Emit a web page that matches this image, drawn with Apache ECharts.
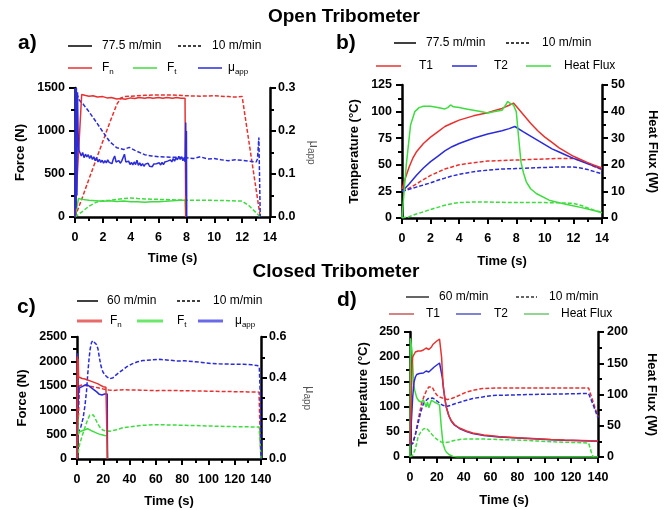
<!DOCTYPE html>
<html><head><meta charset="utf-8">
<script src="https://cdn.jsdelivr.net/npm/echarts@6/dist/echarts.min.js"></script>
<style>html,body{margin:0;padding:0;background:#fff}#c{width:668px;height:510px}</style>
</head><body><div id="c"></div>
<script>
// ---------- tick labels ----------
const aTimeTicks = [0,2,4,6,8,10,12,14];
const aForceTicks = [0,500,1000,1500];
const aMuTicks = [0,0.1,0.2,0.3];
const bTempTicks = [0,25,50,75,100,125];
const bHFTicks = [0,10,20,30,40,50];
const cTimeTicks = [0,20,40,60,80,100,120,140];
const cForceTicks = [0,500,1000,1500,2000,2500];
const cMuTicks = [0,0.2,0.4,0.6];
const dTempTicks = [0,50,100,150,200,250];
const dHFTicks = [0,50,100,150,200];

// ---------- panel a: Open tribometer forces (77.5 m/min solid, 10 m/min dashed) ----------
const aFnFast = [[0,0],[0.12,0],[0.48,1425],[0.7,1415],[1,1405],[1.3,1410],[1.6,1395],[2,1400],[2.3,1385],[2.6,1390],[3,1372],[3.3,1378],[3.6,1370],[4,1385],[4.3,1378],[4.6,1390],[5,1380],[5.3,1390],[5.6,1380],[6,1390],[6.3,1380],[6.6,1390],[7,1380],[7.3,1390],[7.6,1380],[7.9,1382],[7.95,0]];
const aFtFast = [[0,0],[0.12,0],[0.25,215],[0.5,205],[1,195],[1.5,190],[2,183],[2.5,188],[3,180],[3.5,186],[4,178],[4.5,176],[5,172],[5.5,176],[6,178],[6.5,182],[7,188],[7.5,195],[7.9,196],[7.95,0]];
const aMuFast = [[0,0],[0.03,0.3],[0.07,0.02],[0.1,0.3],[0.14,0.05],[0.18,0.29],[0.22,0.2],[0.28,0.155],[0.35,0.15],[0.45,0.142],[0.55,0.15],[0.65,0.138],[0.75,0.146],[0.85,0.14],[0.95,0.145],[1.05,0.136],[1.15,0.143],[1.25,0.134],[1.35,0.14],[1.45,0.131],[1.55,0.138],[1.65,0.128],[1.75,0.134],[1.85,0.127],[1.95,0.132],[2.05,0.125],[2.15,0.131],[2.25,0.126],[2.35,0.133],[2.45,0.127],[2.55,0.13],[2.65,0.124],[2.75,0.135],[2.85,0.142],[2.95,0.128],[3.05,0.126],[3.15,0.131],[3.25,0.125],[3.35,0.13],[3.45,0.128],[3.55,0.146],[3.65,0.128],[3.75,0.124],[3.85,0.13],[3.95,0.122],[4.05,0.127],[4.15,0.121],[4.25,0.128],[4.35,0.122],[4.45,0.132],[4.55,0.12],[4.65,0.126],[4.75,0.119],[4.85,0.124],[4.95,0.118],[5.05,0.123],[5.15,0.119],[5.25,0.125],[5.35,0.118],[5.45,0.122],[5.55,0.117],[5.65,0.123],[5.75,0.119],[5.85,0.124],[5.95,0.12],[6.05,0.126],[6.15,0.121],[6.25,0.127],[6.35,0.122],[6.45,0.128],[6.55,0.124],[6.65,0.13],[6.75,0.126],[6.85,0.133],[6.95,0.128],[7.05,0.136],[7.15,0.13],[7.25,0.138],[7.35,0.133],[7.45,0.141],[7.55,0.134],[7.65,0.14],[7.75,0.131],[7.85,0.139],[7.9,0.128],[7.95,0.22],[7.98,0.05],[8.0,0.2],[8.02,0]];
const aFnSlow = [[0,0],[0.5,215],[1,440],[1.5,660],[2,880],[2.5,1100],[3,1310],[3.3,1385],[3.6,1400],[4,1405],[5,1415],[6,1420],[7,1420],[8,1410],[9,1405],[10,1410],[11,1400],[11.5,1395],[12,1400],[12.65,700],[13.3,0]];
const aFtSlow = [[0,0],[0.5,60],[1,125],[1.5,170],[2,188],[2.5,195],[3,205],[3.5,215],[4,222],[4.5,215],[5,210],[6,205],[7,200],[8,195],[9,195],[10,193],[11,190],[12,185],[12.5,130],[13,50],[13.3,0]];
const aMuSlow = [[0,0.3],[0.1,0.29],[0.3,0.272],[0.6,0.262],[1,0.245],[1.5,0.222],[2,0.198],[2.5,0.175],[3,0.161],[3.5,0.157],[3.9,0.162],[4.3,0.155],[5,0.145],[5.5,0.142],[6,0.14],[7,0.139],[8,0.138],[8.5,0.136],[9,0.14],[9.5,0.135],[10,0.136],[10.5,0.133],[11,0.131],[11.5,0.133],[12,0.132],[12.5,0.13],[13,0.128],[13.1,0.135],[13.2,0.185],[13.3,0]];

// ---------- panel b: Open tribometer temperatures / heat flux ----------
const bT1Fast = [[0,27],[0.25,38],[0.5,48],[0.75,56],[1,62],[1.5,70],[2,76],[2.5,81],[3,86],[3.5,89],[4,92],[5,96],[6,99],[6.5,101],[7,103],[7.5,106],[7.8,108],[8,105],[8.5,97],[9,89],[9.5,82],[10,76],[10.5,71],[11,66],[11.5,62],[12,58],[12.5,55],[13,52],[13.5,49.5],[14,47]];
const bT2Fast = [[0,25],[0.5,32],[1,40],[1.5,47],[2,53],[2.5,58],[3,63],[3.5,67],[4,70],[5,75],[6,79],[7,82],[7.5,84],[7.9,86],[8.5,81],[9,77],[9.5,73],[10,69],[10.5,65],[11,62],[11.5,59],[12,56],[12.5,53.5],[13,51],[13.5,48.5],[14,46]];
const bHFFast = [[0,0],[0.3,20],[0.6,35],[0.9,40],[1.2,41.5],[1.5,42],[2,42],[2.5,41.5],[3,41],[3.2,41.5],[3.4,42.5],[3.6,41.8],[4,41.5],[4.5,41],[5,40.5],[5.5,40],[6,39.5],[6.5,40],[7,40.5],[7.2,42],[7.4,43.8],[7.6,43],[7.8,42.5],[8,40],[8.15,31],[8.33,21],[8.5,17],[8.7,13.6],[9,11],[9.4,9.2],[10.3,6.7],[11,5.7],[11.8,4.8],[12.5,4],[13,3.4],[13.5,2.7],[14,2]];
const bT1Slow = [[0,25],[0.5,28],[1,32],[1.5,36],[2,40],[2.5,43],[3,46],[3.5,48],[4,50],[5,52],[6,53.5],[7,54],[8,54.5],[9,55],[10,55.5],[11,56],[12,56],[12.5,54],[13,51.5],[13.5,48],[14,45.5]];
const bT2Slow = [[0,25],[0.5,27],[1,29],[1.5,31],[2,33],[2.5,35.5],[3,37.5],[3.5,39.5],[4,41],[5,43.5],[6,45],[7,46],[8,46.5],[9,47],[10,47.5],[11,48],[12,48],[12.5,47],[13,45.5],[13.5,43.5],[14,41.5]];
const bHFSlow = [[0,0],[0.5,0.5],[1,1.5],[1.5,2.3],[2,3.2],[2.5,4],[3,4.8],[3.5,5.4],[4,5.8],[5,6],[6,6],[7,5.9],[8,5.8],[9,5.8],[10,5.8],[11,5.7],[12,5.5],[12.5,4.8],[13,3.8],[13.5,2.8],[14,2.2]];

// ---------- panel c: Closed tribometer forces (60 m/min solid, 10 m/min dashed) ----------
const cFnFast = [[0,0],[0.3,2100],[0.6,1500],[0.9,2050],[1.2,1680],[2,1660],[4,1650],[6,1640],[8,1620],[10,1600],[12,1580],[14,1560],[16,1540],[18,1510],[20,1480],[22,1470],[23,1460],[23.2,0]];
const cFtFast = [[0,0],[0.5,900],[0.9,500],[2,560],[4,580],[6,600],[8,620],[9,615],[11,580],[13,555],[15,530],[17,510],[19,495],[21,480],[23,475],[23.2,0]];
const cMuFast = [[0,0],[0.4,0.52],[0.8,0.25],[1.2,0.34],[2,0.35],[3,0.355],[5,0.36],[7,0.365],[9,0.36],[11,0.35],[13,0.34],[15,0.33],[17,0.318],[19,0.315],[21,0.32],[22.5,0.324],[23,0.32],[23.2,0]];
const cFnSlow = [[0,0],[1,800],[2,1500],[4,1520],[8,1500],[12,1480],[16,1460],[20,1435],[24,1415],[28,1405],[32,1415],[36,1422],[40,1415],[50,1410],[60,1400],[70,1405],[80,1400],[90,1395],[100,1390],[110,1385],[120,1380],[130,1375],[138.5,1370],[139.5,300],[140,0]];
const cFtSlow = [[0,0],[2,300],[4,480],[6,640],[8,800],[9.7,900],[11,920],[12.5,900],[14,820],[16,710],[18,630],[20,588],[22,575],[25,570],[30,600],[35,640],[40,660],[50,690],[58,700],[66,700],[76,695],[90,685],[102,675],[115,665],[128,660],[138.5,655],[139.5,300],[140,0]];
const cMuSlow = [[0,0],[0.5,0.14],[1,0.13],[2,0.135],[3,0.16],[4.6,0.2],[6,0.26],[7.2,0.33],[8.2,0.42],[9.2,0.495],[10,0.54],[11,0.572],[12,0.582],[13.5,0.58],[15,0.562],[16,0.54],[17,0.5],[18,0.465],[19,0.44],[20,0.425],[22.5,0.405],[25,0.395],[27.5,0.4],[30,0.415],[34,0.435],[38,0.454],[42,0.468],[46,0.478],[50,0.484],[56,0.487],[63,0.49],[70,0.486],[76,0.482],[82,0.483],[89,0.479],[95,0.475],[102,0.47],[108,0.468],[114,0.467],[120,0.466],[127,0.466],[133,0.463],[137,0.46],[138.7,0.454],[139.5,0.3],[140,0]];

// ---------- panel d: Closed tribometer temperatures / heat flux ----------
const dT1Fast = [[0,25],[0.5,28],[1,120],[1.5,185],[2,200],[3,205],[4,210],[6,212],[8,212],[10,214],[12,218],[13,220],[14,215],[15,216],[16,220],[17,225],[18,228],[20,232],[22,236],[22.8,236],[23.5,200],[24.6,147],[26,115],[27,100],[29,82],[30.7,73],[33,65],[36.8,58],[42,52],[46.7,48],[55,44],[66,41],[80,38.5],[91,37],[105,35],[115,34],[128,33],[140,32]];
const dT2Fast = [[0,25],[0.5,28],[1,70],[2,120],[3,150],[4,160],[5,165],[7,167],[10,168],[12,172],[13,175],[14,170],[15,172],[16,175],[18,180],[20,184],[22,188],[22.8,188],[24,160],[25,135],[27,100],[29,82],[30.7,72],[33,64],[36.8,57],[42,51],[46.7,47],[55,43],[66,40],[80,38],[91,36.5],[105,34.5],[115,33.5],[128,32.5],[140,31.5]];
const dHFFast = [[0,0],[0.3,190],[0.8,187],[1.5,170],[2,149],[2.8,115],[3.5,107],[5,95],[6.5,90],[8,88],[9,86],[10,91],[11,90],[12,80],[13,88],[14,79],[15,85],[16,91],[17,90],[18,88],[20,86],[21,85],[22,83],[22.6,82],[23.3,48],[24.6,21],[26,12],[27,8],[29,4],[32,1],[35,0],[140,0]];
const dT1Slow = [[0,25],[2,27],[4,45],[6,73],[8.6,107],[10.5,122],[12.3,133],[14,140],[15.2,143],[16.5,140],[18.4,130],[20,124],[22,120],[25,117],[28,115],[31,117],[34,120],[38,125],[42,130],[48,134],[54,137],[66,138],[91,138],[110,138],[133,138],[134,136],[137,105],[140,80]];
const dT2Slow = [[0,25],[2,27],[4,45],[6,67],[8,90],[10,107],[12,113],[13.5,117],[17,118],[19,114],[21,110],[24,104],[27,101],[30,103],[34,107],[40,112],[46.7,117],[54,120],[61,123],[75,124],[91,125],[110,126],[133,127],[134,125],[137,100],[140,78]];
const dHFSlow = [[0,0],[2,3],[3.7,11],[5,22],[6,32],[8,40],[10,45],[12.3,46],[14,42],[16,37],[18,32],[19.7,29],[21.5,26],[23.3,24],[26,23],[29,24],[32,26],[37,28],[42,29],[50,29],[66,28],[80,27],[91,26],[110,24],[125,23],[133,22.4],[134,20],[135,8],[136,2],[137,0]];

// ---------- styling ----------
const FF = '"Liberation Sans", Arial, sans-serif';
const RED = '#e8312f', GREEN = '#3fdc3f', BLUE = '#2b2bdc';

function valAxis(ticks, extra) {
  const o = {
    type: 'value', min: ticks[0], max: ticks[ticks.length - 1], interval: ticks[1] - ticks[0],
    nameLocation: 'middle',
    nameTextStyle: { fontFamily: FF, fontWeight: 'bold', fontSize: 13, color: '#000' },
    axisLine: { show: true, onZero: false, lineStyle: { color: '#000', width: 2.5 } },
    axisTick: { show: true, length: 6, lineStyle: { color: '#000', width: 2 } },
    minorTick: { show: true, splitNumber: 2, length: 4, lineStyle: { color: '#000', width: 2 } },
    axisLabel: { fontFamily: FF, fontWeight: 'bold', fontSize: 12.5, color: '#000', margin: 10, formatter: v => String(v) },
    splitLine: { show: false }, minorSplitLine: { show: false }
  };
  return Object.assign(o, extra);
}
const xLab = { fontFamily: FF, fontWeight: 'bold', fontSize: 12.5, color: '#000', margin: 14, formatter: v => String(v) };
const muName = { fontFamily: FF, fontSize: 13, color: '#555', rich: { m: { fontSize: 13, color: '#555', fontFamily: FF, lineHeight: 16 }, s: { fontSize: 10, color: '#555', fontFamily: FF, lineHeight: 10, verticalAlign: 'bottom' } } };
const boldName = { fontFamily: FF, fontWeight: 'bold', fontSize: 13, color: '#000' };

function ln(data, color, dashed, xi, yi) {
  return { type: 'line', data: data, xAxisIndex: xi, yAxisIndex: yi, symbol: 'none', showSymbol: false,
    lineStyle: { color: color, width: 1.5, type: dashed ? [4, 2] : 'solid' }, itemStyle: { color: color },
    z: dashed ? 2 : 3, animation: false };
}

// legend graphic helpers
function gLine(x1, x2, y, color, dashed, w) {
  return { type: 'line', shape: { x1: x1, y1: y, x2: x2, y2: y },
    style: { stroke: color, lineWidth: w || 1.5, lineDash: dashed ? [3, 2] : null } };
}
const subRich = { n: { fontSize: 12, fontFamily: FF, lineHeight: 16, color: '#000' }, s: { fontSize: 8, fontFamily: FF, lineHeight: 8, verticalAlign: 'bottom', color: '#000' } };
function gText(x, y, text, opts) {
  opts = opts || {};
  return { type: 'text', x: x, y: y,
    style: { text: text, font: opts.font || ('12px ' + FF), fill: '#000',
      textAlign: opts.align || 'left', align: opts.align || 'left',
      textVerticalAlign: 'middle', verticalAlign: 'middle', rich: opts.rich } };
}

const graphics = [
  gText(344, 17, 'Open Tribometer', { font: 'bold 19px ' + FF, align: 'center' }),
  gText(336, 272, 'Closed Tribometer', { font: 'bold 19px ' + FF, align: 'center' }),
  gText(18, 43, 'a)', { font: 'bold 21px ' + FF }),
  gText(336, 43, 'b)', { font: 'bold 21px ' + FF }),
  gText(17, 307, 'c)', { font: 'bold 21px ' + FF }),
  gText(337, 300, 'd)', { font: 'bold 21px ' + FF }),
  // legend a
  gLine(68, 92, 46, '#000', false), gText(102, 46, '77.5 m/min'),
  gLine(178, 202, 46, '#000', true), gText(212, 46, '10 m/min'),
  gLine(68, 92, 68, RED, false), gText(102, 68, '{n|F}{s|n}', { rich: subRich }),
  gLine(133, 157, 68, GREEN, false), gText(167, 68, '{n|F}{s|t}', { rich: subRich }),
  gLine(198, 222, 68, BLUE, false), gText(228, 68, '{n|μ}{s|app}', { rich: subRich }),
  // legend b
  gLine(394, 416, 43, '#000', false), gText(426, 43, '77.5 m/min'),
  gLine(506, 529, 43, '#000', true), gText(542, 43, '10 m/min'),
  gLine(376, 401, 66, RED, false), gText(419, 66, 'T1'),
  gLine(452, 477, 66, BLUE, false), gText(494, 66, 'T2'),
  gLine(526, 551, 66, GREEN, false), gText(564, 66, 'Heat Flux'),
  // legend c
  gLine(77, 98, 301, '#000', false), gText(107, 301, '60 m/min'),
  gLine(177, 202, 301, '#000', true), gText(213, 301, '10 m/min'),
  gLine(77, 102, 321, '#e86a6a', false, 3), gText(110, 321, '{n|F}{s|n}', { rich: subRich }),
  gLine(137, 163, 321, '#6be86b', false, 3), gText(177, 321, '{n|F}{s|t}', { rich: subRich }),
  gLine(198, 223, 321, '#6a6ae8', false, 3), gText(235, 321, '{n|μ}{s|app}', { rich: subRich }),
  // legend d
  gLine(406, 429, 297, '#333', false), gText(439, 297, '60 m/min'),
  gLine(516, 537, 297, '#333', true), gText(549, 297, '10 m/min'),
  gLine(389, 414, 314, '#c85a5a', false), gText(426, 314, 'T1'),
  gLine(456, 481, 314, '#5a5ac8', false), gText(494, 314, 'T2'),
  gLine(524, 549, 314, '#6cc86c', false), gText(561, 314, 'Heat Flux')
];

const option = {
  backgroundColor: '#fff',
  animation: false,
  grid: [
    { left: 75, top: 88, width: 195, height: 129 },
    { left: 402, top: 85, width: 200, height: 133 },
    { left: 77, top: 337, width: 184, height: 122 },
    { left: 410, top: 332, width: 188, height: 125 }
  ],
  xAxis: [
    valAxis(aTimeTicks, { gridIndex: 0, name: 'Time (s)', nameGap: 35, axisLabel: xLab }),
    valAxis(aTimeTicks, { gridIndex: 1, name: 'Time (s)', nameGap: 37, axisLabel: xLab }),
    valAxis(cTimeTicks, { gridIndex: 2, name: 'Time (s)', nameGap: 36, axisLabel: xLab }),
    valAxis(cTimeTicks, { gridIndex: 3, name: 'Time (s)', nameGap: 37, axisLabel: xLab })
  ],
  yAxis: [
    valAxis(aForceTicks, { gridIndex: 0, position: 'left', name: 'Force (N)', nameGap: 48 }),
    valAxis(aMuTicks, { gridIndex: 0, position: 'right', name: '{m|μ}{s|app}', nameGap: 36, nameRotate: -90, nameTextStyle: muName,
      axisLabel: { fontFamily: FF, fontWeight: 'bold', fontSize: 12.5, color: '#000', margin: 8, formatter: v => v.toFixed(1) } }),
    valAxis(bTempTicks, { gridIndex: 1, position: 'left', name: 'Temperature (°C)', nameGap: 41 }),
    valAxis(bHFTicks, { gridIndex: 1, position: 'right', name: 'Heat Flux (W)', nameGap: 44, nameRotate: -90, nameTextStyle: boldName,
      axisLabel: { fontFamily: FF, fontWeight: 'bold', fontSize: 12.5, color: '#000', margin: 9, formatter: v => String(v) } }),
    valAxis(cForceTicks, { gridIndex: 2, position: 'left', name: 'Force (N)', nameGap: 48 }),
    valAxis(cMuTicks, { gridIndex: 2, position: 'right', name: '{m|μ}{s|app}', nameGap: 41, nameRotate: -90, nameTextStyle: muName,
      axisLabel: { fontFamily: FF, fontWeight: 'bold', fontSize: 12.5, color: '#000', margin: 8, formatter: v => v.toFixed(1) } }),
    valAxis(dTempTicks, { gridIndex: 3, position: 'left', name: 'Temperature (°C)', nameGap: 40 }),
    valAxis(dHFTicks, { gridIndex: 3, position: 'right', name: 'Heat Flux (W)', nameGap: 47, nameRotate: -90, nameTextStyle: boldName,
      axisLabel: { fontFamily: FF, fontWeight: 'bold', fontSize: 12.5, color: '#000', margin: 9, formatter: v => String(v) } })
  ],
  series: [
    // a
    ln(aFnSlow, RED, true, 0, 0), ln(aFtSlow, GREEN, true, 0, 0), ln(aMuSlow, BLUE, true, 0, 1),
    ln(aFtFast, GREEN, false, 0, 0), ln(aFnFast, RED, false, 0, 0), ln(aMuFast, BLUE, false, 0, 1),
    // b
    ln(bT1Slow, RED, true, 1, 2), ln(bT2Slow, BLUE, true, 1, 2), ln(bHFSlow, GREEN, true, 1, 3),
    ln(bT2Fast, BLUE, false, 1, 2), ln(bT1Fast, RED, false, 1, 2), ln(bHFFast, GREEN, false, 1, 3),
    // c
    ln(cFnSlow, RED, true, 2, 4), ln(cFtSlow, GREEN, true, 2, 4), ln(cMuSlow, BLUE, true, 2, 5),
    ln(cFtFast, GREEN, false, 2, 4), ln(cMuFast, BLUE, false, 2, 5), ln(cFnFast, RED, false, 2, 4),
    // d
    ln(dT1Slow, RED, true, 3, 6), ln(dT2Slow, BLUE, true, 3, 6), ln(dHFSlow, GREEN, true, 3, 7),
    ln(dHFFast, GREEN, false, 3, 7), ln(dT2Fast, BLUE, false, 3, 6), ln(dT1Fast, RED, false, 3, 6)
  ],
  graphic: graphics
};
const chart = echarts.init(document.getElementById('c'), null, { renderer: 'canvas' });
chart.setOption(option);
</script>
</body></html>
